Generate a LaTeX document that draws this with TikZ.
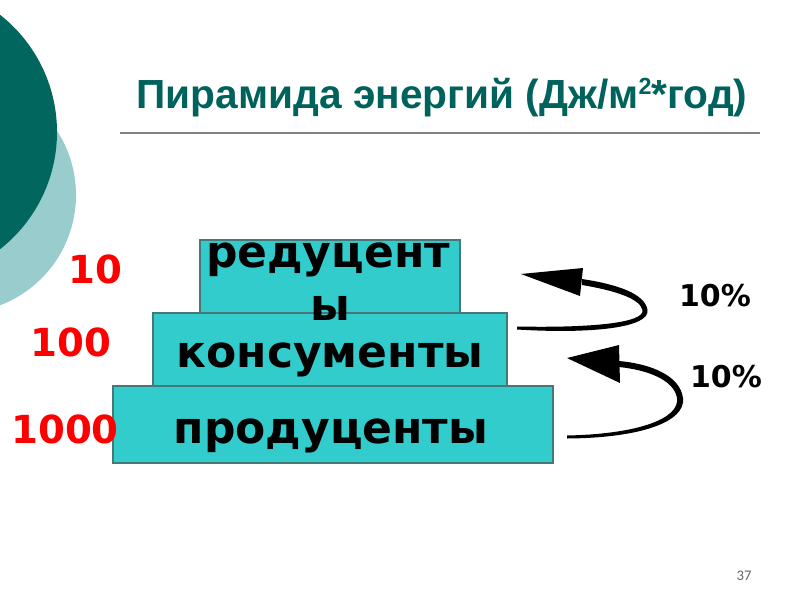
\documentclass[tikz,border=0pt]{standalone}
\usepackage{fontspec}
\setmainfont{DejaVu Sans}
\newfontfamily\titlefont{Liberation Sans}
\newfontfamily\numfont{Carlito}
\definecolor{darkteal}{RGB}{0,102,94}
\definecolor{lightteal}{RGB}{153,204,204}
\definecolor{titleteal}{RGB}{0,98,92}
\definecolor{boxfill}{RGB}{51,204,204}
\definecolor{boxedge}{RGB}{70,120,120}
\definecolor{rulegray}{RGB}{128,128,128}
\begin{document}
\begin{tikzpicture}[x=0.75pt,y=-0.75pt,
  tier/.style={draw=boxedge,line width=0.8pt,fill=boxfill,rectangle,inner sep=0pt},
  tiertext/.style={font=\fontsize{33}{33}\selectfont\bfseries,anchor=base,inner sep=0pt},
  rednum/.style={font=\fontsize{29}{29}\selectfont\bfseries,text=red,anchor=base,inner sep=0pt},
  pct/.style={font=\fontsize{22.5}{22.5}\selectfont\bfseries,anchor=base,inner sep=0pt},
  arrowbody/.style={fill=black,draw=none}]
\useasboundingbox (0,0) rectangle (800,600);
% decorative circles
\fill[lightteal] (-42,195) circle[radius=118];
\fill[darkteal] (-92,132) circle[radius=149];
% title
\node[font=\fontsize{30.5}{30.5}\selectfont\titlefont\bfseries,text=titleteal,anchor=base,inner sep=0pt] (title) at (442,108)
  {Пирамида энергий (Дж/м\raisebox{0.32em}{\fontsize{17.5}{17.5}\selectfont 2}*год)};
\coordinate (ruleL) at (120,133);
\coordinate (ruleR) at (760,133);
\draw[rulegray,line width=1.5pt] (ruleL) -- (ruleR);
% tiers
\node[tier,minimum width=260*0.75pt,minimum height=73*0.75pt] (top) at (330,276.5) {};
\node[tier,minimum width=354*0.75pt,minimum height=73*0.75pt] (mid) at (330,349.5) {};
\node[tier,minimum width=440*0.75pt,minimum height=77*0.75pt] (bot) at (333,424.5) {};
\node[tiertext] (t1a) at (328,267) {редуцент};
\node[tiertext] (t1b) at (330,320) {ы};
\node[tiertext] (t2) at (330,367) {консументы};
\node[tiertext] (t3) at (331,443) {продуценты};
% numbers
\node[rednum] (n10) at (95,283) {10};
\node[rednum] (n100) at (71,356) {100};
\node[rednum] (n1000) at (65,443) {1000};
% arrow 1
\coordinate (a1s) at (517,328);
\coordinate (a1tip) at (521,274);
\fill[arrowbody] (517,329.5) .. controls (590,334) and (650,328) .. (647.5,310) .. controls (645,293) and (615,284) .. (582,279)
  -- (582,285) .. controls (612,290) and (640,298) .. (642.5,310) .. controls (645,323) and (590,328) .. (517,326.5) -- cycle;
\fill[arrowbody] (a1tip) -- (583,268) -- (580,296) -- cycle;
% arrow 2
\coordinate (a2s) at (567,437);
\coordinate (a2tip) at (567,358);
\fill[arrowbody] (567,438.5) .. controls (640,438) and (686,422) .. (683,398) .. controls (680,376) and (652,364) .. (619,361)
  -- (619,367) .. controls (648,370) and (674,380) .. (677,398) .. controls (680,418) and (640,434) .. (567,435.5) -- cycle;
\fill[arrowbody] (a2tip) -- (619,345) -- (620,383) -- cycle;
% percent labels
\node[pct] (p1) at (715,306) {10\%};
\node[pct] (p2) at (726,387) {10\%};
% page number
\node[font=\fontsize{11}{11}\selectfont\numfont,text=rulegray!80!black,anchor=base,inner sep=0pt] (pg) at (744,580) {37};
\end{tikzpicture}
\end{document}
